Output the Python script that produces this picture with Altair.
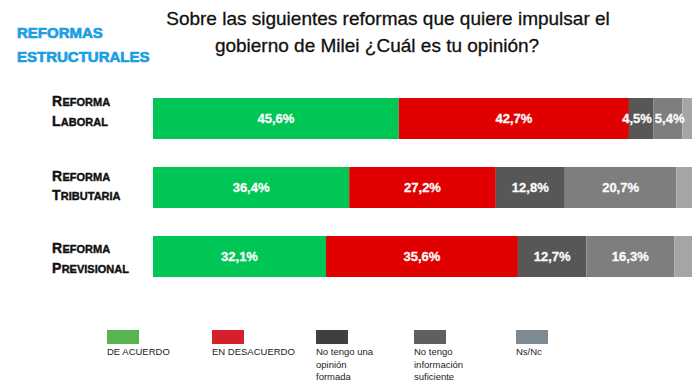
import altair as alt
import pandas as pd

# ---------------- data ----------------
categories = ["Reforma Laboral", "Reforma Tributaria", "Reforma Previsional"]
label_line1 = ["Reforma", "Reforma", "Reforma"]
label_line2 = ["Laboral", "Tributaria", "Previsional"]

series = ["DE ACUERDO", "EN DESACUERDO", "No tengo una opinión formada",
          "No tengo información suficiente", "Ns/Nc"]
legend_text = ["DE ACUERDO", "EN DESACUERDO", "No tengo una\nopinión\nformada",
               "No tengo\ninformación\nsuficiente", "Ns/Nc"]

de_acuerdo = [45.6, 36.4, 32.1]
en_desacuerdo = [42.7, 27.2, 35.6]
sin_opinion = [4.5, 12.8, 12.7]
sin_info = [5.4, 20.7, 16.3]
ns_nc = [1.8, 2.9, 3.3]

title_line1 = "Sobre las siguientes reformas que quiere impulsar el"
title_line2 = "gobierno de Milei ¿Cuál es tu opinión?"
header_line1 = "REFORMAS"
header_line2 = "ESTRUCTURALES"

# ---------------- styles / layout ----------------
bar_colors = ["#00c656", "#e00000", "#575757", "#7e7e7e", "#a5a5a5"]
legend_colors = ["#58b451", "#d3202a", "#3e3f41", "#5f5f61", "#7b8a93"]
legend_x = [99, 204, 308, 406, 508]          # swatch left edges (plot px)
line1_off = [7.5, 13.8, 16.7]                # label baselines relative to bar top (px)
line2_off = [28.0, 32.8, 36.8]
label_nudge = {("Reforma Laboral", "No tengo una opinión formada"): -0.75,
               ("Reforma Laboral", "No tengo información suficiente"): 0.35}
FONT = "Liberation Sans"

# ---------------- tables ----------------
values = [de_acuerdo, en_desacuerdo, sin_opinion, sin_info, ns_nc]
rows = []
for i, cat in enumerate(categories):
    acc = 0.0
    for j, s in enumerate(series):
        v = values[j][i]
        rows.append({
            "cat": cat, "serie": s, "start": acc, "end": acc + v,
            "mid": acc + v / 2 + label_nudge.get((cat, s), 0.0), "order": j,
            "label": (f"{v:.1f}".replace(".", ",") + "%") if s != "Ns/Nc" else "",
        })
        acc += v
bars_df = pd.DataFrame(rows)

# small caps label parts
cap_w = {"R": 0.722, "L": 0.611, "T": 0.611, "P": 0.667}
BIG, SMALL, LX = 14, 11, 44
ylab = pd.DataFrame({
    "cat": categories,
    "f1": [s[0] for s in label_line1],
    "r1": [s[1:].upper() for s in label_line1],
    "f2": [s[0] for s in label_line2],
    "r2": [s[1:].upper() for s in label_line2],
    "o1": line1_off,
    "o2": line2_off,
})
ylab["x0"] = LX
ylab["x1"] = [LX + cap_w[c] * BIG + 0.3 for c in ylab["f1"]]
ylab["x2"] = [LX + cap_w[c] * BIG + 0.3 for c in ylab["f2"]]

leg_df = pd.DataFrame({
    "serie": series, "txt": legend_text,
    "lx": legend_x, "lx2": [x + 32 for x in legend_x],
})

xscale = alt.Scale(domain=[0, 100], range=[145, 684], nice=False, zero=False)
yscale = alt.Scale(domain=categories, range=[76, 283], paddingInner=0.406, paddingOuter=0.203)
Y = alt.Y("cat:N", scale=yscale, axis=None, sort=categories)

bars = alt.Chart(bars_df).mark_bar(strokeWidth=0).encode(
    x=alt.X("start:Q", scale=xscale, axis=None),
    x2="end:Q",
    y=Y,
    color=alt.Color("serie:N", scale=alt.Scale(domain=series, range=bar_colors), legend=None),
)

seg_labels = alt.Chart(bars_df).transform_filter("datum.label != ''").mark_text(
    color="#fbfbfb", font=FONT, fontWeight="bold", fontSize=13, baseline="middle", align="center",
    stroke="#fbfbfb", strokeWidth=0.3,
).encode(x=alt.X("mid:Q", scale=xscale, axis=None), y=Y, text="label:N")

def ytext(field, xfield, offfield, size):
    return alt.Chart(ylab).mark_text(
        font=FONT, fontWeight="bold", fontSize=size, align="left", baseline="alphabetic",
        color="#111111", stroke="#111111", strokeWidth=0.4,
    ).encode(
        x=alt.X(f"{xfield}:Q", scale=None), y=Y,
        yOffset=alt.YOffset(f"{offfield}:Q", scale=None),
        text=f"{field}:N",
    )

ylabels = [
    ytext("f1", "x0", "o1", BIG), ytext("r1", "x1", "o1", SMALL),
    ytext("f2", "x0", "o2", BIG), ytext("r2", "x2", "o2", SMALL),
]

def fixed_text(txt, x, y, size, color, weight="normal", align="center", sw=0.0):
    kw = dict(font=FONT, fontSize=size, color=color, fontWeight=weight, align=align, baseline="middle")
    if sw > 0:
        kw.update(stroke=color, strokeWidth=sw)
    return alt.Chart(pd.DataFrame({"t": [txt]})).mark_text(**kw).encode(
        x=alt.value(x), y=alt.value(y), text="t:N")

titles = [
    fixed_text(title_line1, 380, 11, 19, "#111111", sw=0.3),
    fixed_text(title_line2, 369, 38, 19, "#111111", sw=0.3),
    fixed_text(header_line1, 9, 25, 15, "#1c9ee2", "bold", "left", sw=0.7),
    fixed_text(header_line2, 9, 49, 15, "#1c9ee2", "bold", "left", sw=0.7),
]

leg_rect = alt.Chart(leg_df).mark_rect().encode(
    x=alt.X("lx:Q", scale=None), x2="lx2:Q",
    y=alt.value(322), y2=alt.value(336),
    color=alt.Color("serie:N", scale=alt.Scale(domain=series, range=legend_colors), legend=None),
)
leg_text = alt.Chart(leg_df).mark_text(
    font=FONT, fontSize=9.5, color="#222222", align="left", baseline="middle",
    lineBreak="\n", lineHeight=12.5,
).encode(x=alt.X("lx:Q", scale=None), y=alt.value(344), text="txt:N")

chart = alt.layer(bars, seg_labels, *ylabels, *titles, leg_rect, leg_text).resolve_scale(
    color="independent"
).properties(
    width=684, height=374, padding=0, autosize=alt.AutoSizeParams(type="none"),
    background="#ffffff",
).configure_view(stroke=None)

chart.save("out.html", embed_options={"renderer": "svg", "actions": False})
